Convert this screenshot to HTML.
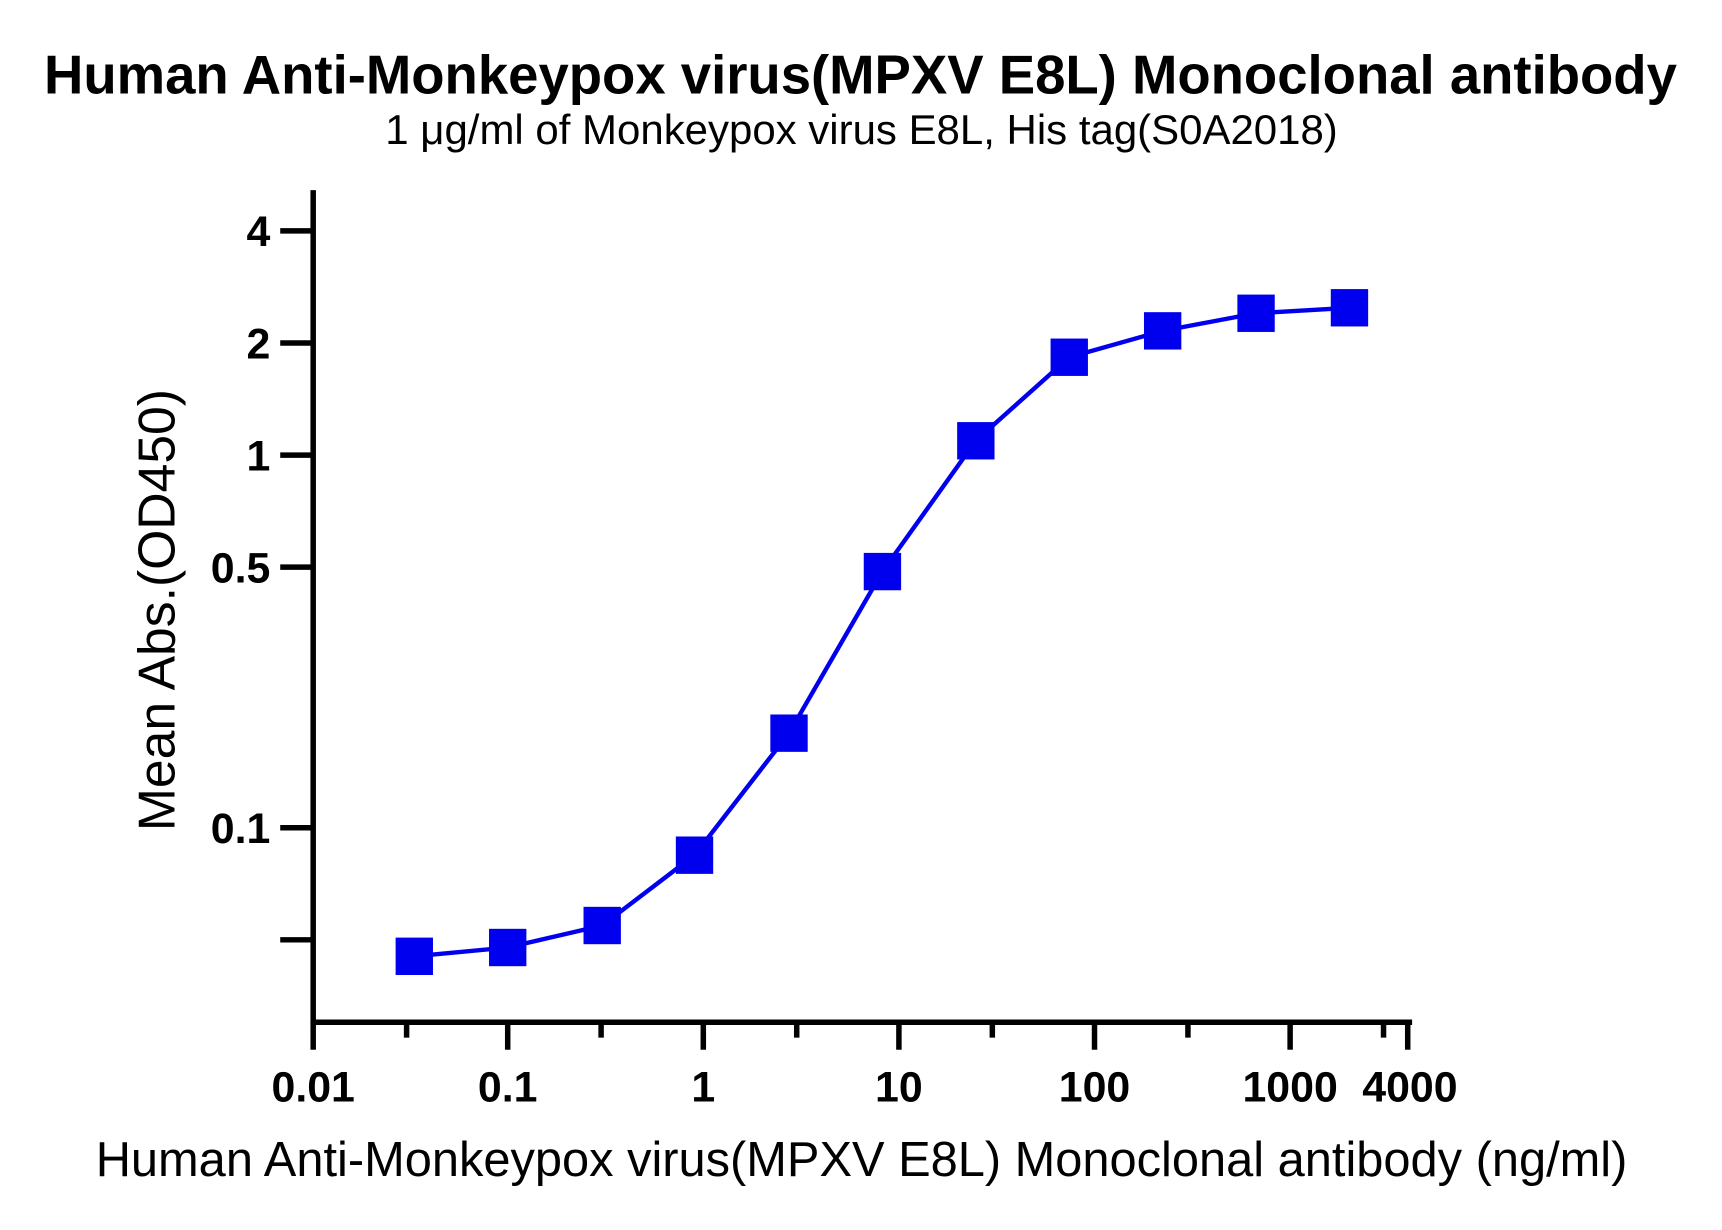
<!DOCTYPE html>
<html><head><meta charset="utf-8"><style>
html,body{margin:0;padding:0;background:#fff;}
svg{display:block;}
text{font-family:"Liberation Sans",Arial,sans-serif;fill:#000;}
</style></head><body>
<svg width="1722" height="1230" viewBox="0 0 1567 1119" preserveAspectRatio="none" xmlns="http://www.w3.org/2000/svg">
<text x="783" y="85" font-size="49.6" font-weight="bold" text-anchor="middle">Human Anti-Monkeypox virus(MPXV E8L) Monoclonal antibody</text>
<text x="784" y="131" font-size="38.2" text-anchor="middle">1 μg/ml of Monkeypox virus E8L, His tag(S0A2018)</text>
<g stroke="#000" stroke-width="5" fill="none">
<line x1="285" y1="173" x2="285" y2="932"/>
<line x1="283" y1="930" x2="1285" y2="930"/>
<line x1="255" y1="210" x2="285" y2="210"/>
<line x1="255" y1="312" x2="285" y2="312"/>
<line x1="255" y1="414" x2="285" y2="414"/>
<line x1="255" y1="516" x2="285" y2="516"/>
<line x1="255" y1="753" x2="285" y2="753"/>
<line x1="255" y1="855" x2="285" y2="855"/>
<line x1="285" y1="930" x2="285" y2="955"/>
<line x1="462" y1="930" x2="462" y2="955"/>
<line x1="640" y1="930" x2="640" y2="955"/>
<line x1="818" y1="930" x2="818" y2="955"/>
<line x1="996" y1="930" x2="996" y2="955"/>
<line x1="1174" y1="930" x2="1174" y2="955"/>
<line x1="1281" y1="930" x2="1281" y2="955"/>
<line x1="370" y1="930" x2="370" y2="944"/>
<line x1="547" y1="930" x2="547" y2="944"/>
<line x1="725" y1="930" x2="725" y2="944"/>
<line x1="903" y1="930" x2="903" y2="944"/>
<line x1="1081" y1="930" x2="1081" y2="944"/>
<line x1="1259" y1="930" x2="1259" y2="944"/>
</g>
<g font-size="39" font-weight="bold" text-anchor="end">
<text x="246" y="224">4</text>
<text x="246" y="326">2</text>
<text x="246" y="428">1</text>
<text x="246" y="530">0.5</text>
<text x="246" y="767">0.1</text>
</g>
<g font-size="39" font-weight="bold" text-anchor="middle">
<text x="285" y="1002">0.01</text>
<text x="462" y="1002">0.1</text>
<text x="640" y="1002">1</text>
<text x="818" y="1002">10</text>
<text x="996" y="1002">100</text>
<text x="1174" y="1002">1000</text>
<text x="1283" y="1002">4000</text>
</g>
<text x="784" y="1070" font-size="44.4" text-anchor="middle">Human Anti-Monkeypox virus(MPXV E8L) Monoclonal antibody (ng/ml)</text>
<text transform="translate(159,555) rotate(-90)" font-size="47" text-anchor="middle">Mean Abs.(OD450)</text>
<polyline fill="none" stroke="#0000ee" stroke-width="4" points="377,870 462,862 548,842 632,778 718,667 803,520 888,401 973,325 1058,301 1143,285 1228,280"/>
<g fill="#0000ee">
<rect x="360" y="853" width="34" height="34"/>
<rect x="445" y="845" width="34" height="34"/>
<rect x="531" y="825" width="34" height="34"/>
<rect x="615" y="761" width="34" height="34"/>
<rect x="701" y="650" width="34" height="34"/>
<rect x="786" y="503" width="34" height="34"/>
<rect x="871" y="384" width="34" height="34"/>
<rect x="956" y="308" width="34" height="34"/>
<rect x="1041" y="284" width="34" height="34"/>
<rect x="1126" y="268" width="34" height="34"/>
<rect x="1211" y="263" width="34" height="34"/>
</g>
</svg>
</body></html>
